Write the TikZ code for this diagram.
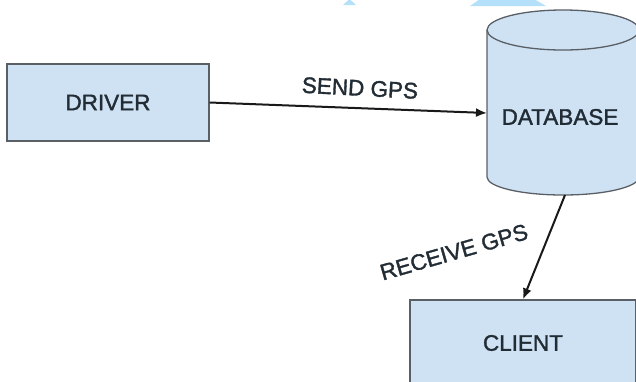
\documentclass[tikz,border=0pt]{standalone}
\usepackage{fontspec}
\setmainfont{Liberation Sans}
\newfontfamily\labelface{Liberation Sans}[FakeBold=1.6]
\usetikzlibrary{arrows.meta}
\definecolor{boxfill}{HTML}{CFE2F3}
\definecolor{boxline}{HTML}{5A5F66}
\definecolor{inktext}{HTML}{222C35}
\definecolor{markblue}{HTML}{B5E0FA}
\newcommand{\labelfont}{\labelface\fontsize{22.5}{25}\selectfont}
\tikzset{
  block/.style={draw=boxline, line width=1.3pt, fill=boxfill, rectangle,
    inner sep=0pt, font=\labelfont, text=inktext},
  label/.style={font=\labelfont, text=inktext, inner sep=0pt},
  flow/.style={draw=black!90, line width=2pt, -{Latex[length=11pt,width=9pt]}}
}
\begin{document}
\begin{tikzpicture}[x=1pt,y=-1pt]
  \useasboundingbox (0,0) rectangle (636,381);
  \clip (0,0) rectangle (636,381);

  % light blue marks along the top edge
  \fill[markblue] (343,5) -- (349.5,-1) -- (356,5) -- cycle;
  \fill[markblue] (470,6) -- (480,-1) -- (534,-1) -- (546,6) -- cycle;

  % sender box
  \node[block, minimum width=202pt, minimum height=77pt] (driver) at (108,102.5) {DRIVER};

  % storage cylinder
  \fill[boxfill] (487,30) -- (487,177) arc[start angle=180, end angle=360, x radius=76, y radius=-18]
    -- (639,30) arc[start angle=0, end angle=180, x radius=76, y radius=-20] -- cycle;
  \draw[boxline, line width=1.3pt] (487,30) -- (487,177)
    arc[start angle=180, end angle=360, x radius=76, y radius=-18] -- (639,30);
  \draw[boxline, line width=1.3pt] (563,30) ellipse[x radius=76, y radius=20];
  \node[label] (db) at (560,117) {DATABASE};
  \coordinate (dbin) at (487,113);
  \coordinate (dbout) at (565,195);

  % receiver box
  \node[block, minimum width=226pt, minimum height=86pt] (client) at (523,343) {CLIENT};

  % data flow
  \draw[flow] (driver.east) -- (dbin);
  \node[label, rotate=-3] (sendlbl) at (360,88) {SEND GPS};
  \draw[flow] (dbout) -- (client.north);
  \node[label, rotate=16] (recvlbl) at (454,252) {RECEIVE GPS};
\end{tikzpicture}
\end{document}
